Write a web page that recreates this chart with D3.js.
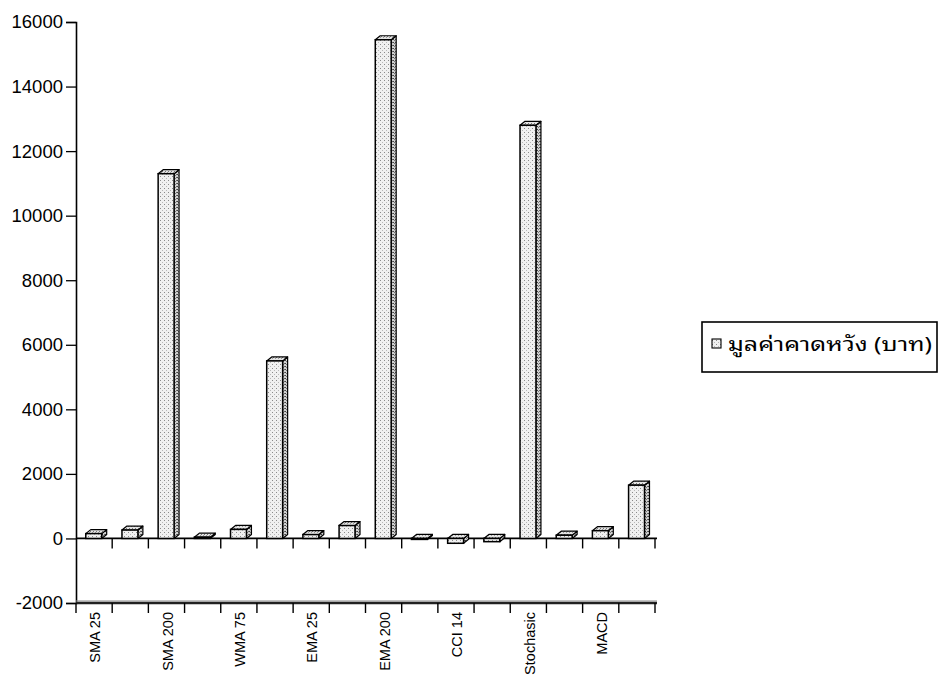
<!DOCTYPE html>
<html>
<head>
<meta charset="utf-8">
<script src="https://cdn.jsdelivr.net/npm/d3@7"></script>
<style>
  body { margin: 0; background: #fff; }
  svg { display: block; }
</style>
</head>
<body>
<svg id="chart" width="939" height="675"></svg>
<script>
// Category labels (only every other category carries a printed label)
const categories = ["SMA 25", "", "SMA 200", "", "WMA 75", "", "EMA 25", "", "EMA 200", "", "CCI 14", "", "Stochasic", "", "MACD", ""];
// Expected value (baht) per strategy
const values = [150, 260, 11300, 40, 280, 5500, 120, 400, 15450, -30, -150, -100, 12800, 100, 240, 1650];
const yTicks = [-2000, 0, 2000, 4000, 6000, 8000, 10000, 12000, 14000, 16000];
const seriesName = "มูลค่าคาดหวัง (บาท)";

const svg = d3.select("#chart");
const defs = svg.append("defs");

// Stippled fills for the faces of the 3-D columns
function stipple(id, bg, dots, size) {
  const p = defs.append("pattern").attr("id", id)
    .attr("patternUnits", "userSpaceOnUse").attr("width", size).attr("height", size);
  p.append("rect").attr("width", size).attr("height", size).attr("fill", bg);
  dots.forEach(([x, y, c]) => p.append("rect").attr("x", x).attr("y", y)
    .attr("width", 1).attr("height", 1).attr("fill", c));
}
stipple("front", "#f0f0f0", [[0, 0, "#8a8a8a"], [2, 2, "#b8b8b8"]], 4);
stipple("side", "#d0d0d0", [[0, 0, "#444"], [1, 1, "#777"], [2, 0, "#666"]], 3);
stipple("top", "#e4e4e4", [[0, 0, "#777"], [2, 1, "#999"]], 3);

const left = 76, right = 655;
const x = d3.scaleBand().domain(d3.range(categories.length)).range([left, right]).paddingInner(0).paddingOuter(0);
const y = d3.scaleLinear().domain([-2000, 16000]).range([603, 22]);
const bw = x.bandwidth();
const frontOff = bw * 0.27, frontW = bw * 0.44, dx = 5, dy = 4;

// Y axis
const yAxis = d3.axisLeft(y).tickValues(yTicks).tickSize(10).tickPadding(3).tickFormat(d => String(d));
const gy = svg.append("g").attr("transform", `translate(${left},0)`).call(yAxis);
gy.select(".domain").attr("stroke", "#000").attr("stroke-width", 1.6);
gy.selectAll(".tick line").attr("stroke", "#000").attr("stroke-width", 1.3);
gy.selectAll(".tick text")
  .attr("font-family", "Liberation Sans, Arial, sans-serif")
  .attr("font-size", 18.5).attr("fill", "#000");

// Category boundary positions for tick marks
const bounds = d3.range(categories.length + 1).map(i => left + i * bw);

// Floor line at -2000 with category ticks and labels
const floorY = y(-2000);
svg.append("line").attr("x1", left).attr("x2", right + 2).attr("y1", floorY).attr("y2", floorY)
  .attr("stroke", "#222").attr("stroke-width", 2.6);
svg.append("line").attr("x1", left).attr("x2", right + 2).attr("y1", floorY - 2).attr("y2", floorY - 2)
  .attr("stroke", "#888").attr("stroke-width", 1);
svg.selectAll(".ftick").data(bounds).join("line").attr("class", "ftick")
  .attr("x1", d => d).attr("x2", d => d).attr("y1", floorY).attr("y2", floorY + 10)
  .attr("stroke", "#000").attr("stroke-width", 1.4);

svg.selectAll(".xlab").data(categories.map((c, i) => ({ c, i })).filter(d => d.c))
  .join("text").attr("class", "xlab")
  .attr("transform", d => `translate(${x(d.i) + bw / 2 + 1},${floorY + 9}) rotate(-90)`)
  .attr("text-anchor", "end").attr("dy", "0.36em")
  .attr("font-family", "Liberation Sans, Arial, sans-serif")
  .attr("font-size", 14.5).attr("fill", "#000")
  .text(d => d.c);

// Zero line with category ticks
const zeroY = y(0);
svg.append("line").attr("x1", left).attr("x2", right + 2).attr("y1", zeroY).attr("y2", zeroY)
  .attr("stroke", "#000").attr("stroke-width", 1.8);
svg.selectAll(".ztick").data(bounds.slice(1)).join("line").attr("class", "ztick")
  .attr("x1", d => d).attr("x2", d => d).attr("y1", zeroY).attr("y2", zeroY + 10)
  .attr("stroke", "#000").attr("stroke-width", 1.4);

// 3-D columns: front face, top face, right side face
const bars = svg.selectAll(".bar").data(values.map((v, i) => ({ v, i }))).join("g").attr("class", "bar");
bars.each(function (d) {
  const g = d3.select(this);
  const x0 = x(d.i) + frontOff, x1 = x0 + frontW;
  const top = y(Math.max(d.v, 0)), bot = y(Math.min(d.v, 0));
  g.append("polygon")
    .attr("points", [[x1, top], [x1 + dx, top - dy], [x1 + dx, bot - dy], [x1, bot]].join(" "))
    .attr("fill", "url(#side)").attr("stroke", "#000").attr("stroke-width", 1.2).attr("stroke-linejoin", "round");
  g.append("polygon")
    .attr("points", [[x0, top], [x0 + dx, top - dy], [x1 + dx, top - dy], [x1, top]].join(" "))
    .attr("fill", "url(#top)").attr("stroke", "#000").attr("stroke-width", 1.2).attr("stroke-linejoin", "round");
  g.append("rect")
    .attr("x", x0).attr("y", top).attr("width", frontW).attr("height", Math.max(bot - top, 0.5))
    .attr("fill", "url(#front)").attr("stroke", "#000").attr("stroke-width", 1.5);
});

// Legend
const lg = svg.append("g");
lg.append("rect").attr("x", 702).attr("y", 322).attr("width", 235).attr("height", 50)
  .attr("fill", "#fff").attr("stroke", "#000").attr("stroke-width", 1.6);
lg.append("rect").attr("x", 712).attr("y", 339).attr("width", 9).attr("height", 9)
  .attr("fill", "url(#front)").attr("stroke", "#000").attr("stroke-width", 1.1);
lg.append("text").attr("x", 728).attr("y", 351)
  .attr("font-family", "Tahoma, Noto Sans Thai Looped, Noto Sans Thai, Noto Sans, DejaVu Sans, sans-serif")
  .attr("font-size", 19).attr("fill", "#000")
  .attr("textLength", 204).attr("lengthAdjust", "spacingAndGlyphs")
  .text(seriesName);
</script>
</body>
</html>
